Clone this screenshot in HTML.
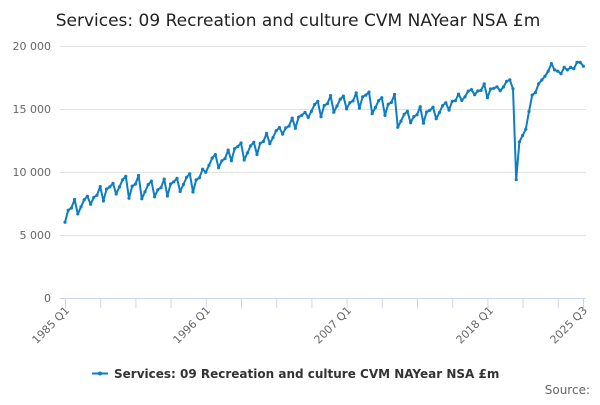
<!DOCTYPE html>
<html><head><meta charset="utf-8"><style>
body{margin:0;background:#fff;font-family:"Liberation Sans","DejaVu Sans",sans-serif}
</style></head><body>
<svg id="s" width="600" height="400" xmlns="http://www.w3.org/2000/svg" font-family="DejaVu Sans, Liberation Sans, sans-serif">
<text x="298" y="26" text-anchor="middle" font-size="17" fill="#222">Services: 09 Recreation and culture CVM NAYear NSA £m</text>
<g stroke="#e3e3e3" stroke-width="1">
<line x1="60" x2="586" y1="46.5" y2="46.5"/><line x1="60" x2="586" y1="109.5" y2="109.5"/>
<line x1="60" x2="586" y1="172.5" y2="172.5"/><line x1="60" x2="586" y1="235.5" y2="235.5"/>
</g>
<line x1="60" x2="586" y1="298.5" y2="298.5" stroke="#ccd6eb"/>
<g font-size="11" fill="#666" text-anchor="end">
<text x="51" y="50">20 000</text><text x="51" y="113">15 000</text><text x="51" y="176">10 000</text>
<text x="51" y="239">5 000</text><text x="51" y="302">0</text>
</g>
<g id="ticks" stroke="#ccd6eb"></g>
<g font-size="11" fill="#666" text-anchor="end">
<text transform="translate(70,311) rotate(-45)">1985 Q1</text>
<text transform="translate(211,311) rotate(-45)">1996 Q1</text>
<text transform="translate(352,311) rotate(-45)">2007 Q1</text>
<text transform="translate(494,311) rotate(-45)">2018 Q1</text>
<text transform="translate(588,311) rotate(-45)">2025 Q3</text>
</g>
<path id="p" fill="none" stroke="#0f7dc2" stroke-width="2" stroke-linejoin="round"/>
<g id="m" fill="#0f7dc2"></g>
<line x1="92" x2="108" y1="373.5" y2="373.5" stroke="#0f7dc2" stroke-width="2"/>
<circle cx="100" cy="373.5" r="2" fill="#0f7dc2"/>
<text x="114" y="378" font-size="12" font-weight="bold" fill="#333">Services: 09 Recreation and culture CVM NAYear NSA £m</text>
<text x="590" y="394" font-size="12" fill="#666" text-anchor="end">Source:</text>
</svg>
<script>
var tr={1985:7.0,1986:7.5,1987:8.1,1988:8.6,1989:9.0,1990:8.9,1991:8.7,1992:8.7,1993:9.0,1994:9.2,1995:9.4,1996:10.8,1997:11.0,1998:11.8,1999:11.7,2000:12.3,2001:13.0,2002:13.6,2003:14.3,2004:15.0,2005:15.3,2006:15.5,2007:15.6,2008:15.9,2009:15.3,2010:15.4,2011:14.3,2012:14.5,2013:14.7,2014:14.9,2015:15.6,2016:16.2,2017:16.5,2018:16.5,2019:16.9};
var v=[];
for(var y=1985;y<=2019;y++){var a=y<2000?1.1:(y<2015?1.0:0.7);var s=[-0.75,-0.1,0.2,0.6];for(var q=0;q<4;q++)v.push(tr[y]+s[q]*a+((y*7+q*3)%5-2)*0.08);}
v=v.concat([16.6,9.4,12.4,12.9,13.4,14.8,16.1,16.3,17.0,17.3,17.6,18.0,18.6,18.1,18.0,17.8,18.3,18.1,18.3,18.2,18.7,18.7,18.4]);
var d="",m="";
for(var i=0;i<v.length;i++){var x=65+i*3.2,yy=298-v[i]*12.6;d+=(i?"L":"M")+x.toFixed(1)+" "+yy.toFixed(1);m+='<circle cx="'+x.toFixed(1)+'" cy="'+yy.toFixed(1)+'" r="1.6"/>';}
document.getElementById("p").setAttribute("d",d);
document.getElementById("m").innerHTML=m;
var t="";for(var k=0;k<15;k++){var x=65.5+k*35.2;t+='<line x1="'+x+'" x2="'+x+'" y1="298" y2="308"/>';}
t+='<line x1="583.5" x2="583.5" y1="298" y2="308"/>';
document.getElementById("ticks").innerHTML=t;
</script>
</body></html>
